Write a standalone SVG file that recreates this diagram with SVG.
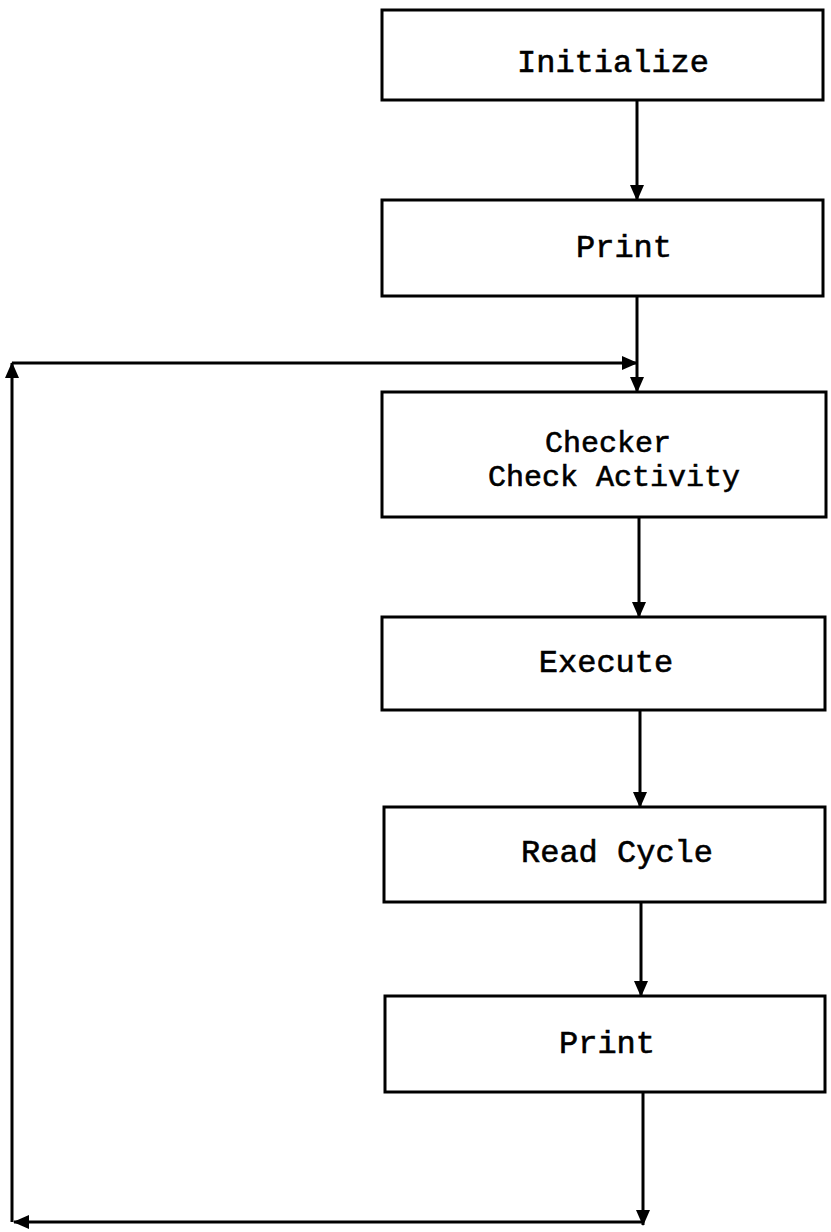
<svg xmlns="http://www.w3.org/2000/svg" width="831" height="1232" viewBox="0 0 831 1232">
<style>
.box{fill:#fff;stroke:#000;stroke-width:3}
.lbl{font-family:"Liberation Mono","Courier New",monospace;font-size:32px;fill:#000;text-anchor:middle;stroke:#000;stroke-width:0.6}
.sm{font-size:30px}
.ln{fill:none;stroke:#000;stroke-width:3}
</style>
<defs>
<marker id="ah" markerWidth="16" markerHeight="16" refX="15" refY="8" orient="auto" markerUnits="userSpaceOnUse">
<path d="M0,1 L16,8 L0,15 Z" fill="#000"/>
</marker>
</defs>
<rect width="831" height="1232" fill="#fff"/>
<g id="connectors">
<line class="ln" x1="637" y1="100" x2="637" y2="200" marker-end="url(#ah)"/>
<line class="ln" x1="637" y1="296" x2="637" y2="392" marker-end="url(#ah)"/>
<line class="ln" x1="12" y1="363" x2="637" y2="363" marker-end="url(#ah)"/>
<line class="ln" x1="639" y1="517" x2="639" y2="617" marker-end="url(#ah)"/>
<line class="ln" x1="640" y1="710" x2="640" y2="807" marker-end="url(#ah)"/>
<line class="ln" x1="641" y1="902" x2="641" y2="996" marker-end="url(#ah)"/>
<line class="ln" x1="643" y1="1092" x2="643" y2="1225" marker-end="url(#ah)"/>
<line class="ln" x1="643" y1="1222" x2="14" y2="1222" marker-end="url(#ah)"/>
<line class="ln" x1="12" y1="1222" x2="12" y2="363" marker-end="url(#ah)"/>
</g>
<g id="initialize">
<rect class="box" x="382" y="10" width="441" height="90"/>
<text class="lbl" x="613" y="72">Initialize</text>
</g>
<g id="print1">
<rect class="box" x="382" y="200" width="441" height="96"/>
<text class="lbl" x="624" y="257">Print</text>
</g>
<g id="checker">
<rect class="box" x="382" y="392" width="444" height="125"/>
<text class="lbl sm" x="608" y="452">Checker</text>
<text class="lbl sm" x="614" y="486">Check Activity</text>
</g>
<g id="execute">
<rect class="box" x="382" y="617" width="443" height="93"/>
<text class="lbl" x="606" y="672">Execute</text>
</g>
<g id="readcycle">
<rect class="box" x="384" y="807" width="441" height="95"/>
<text class="lbl" x="617" y="862">Read Cycle</text>
</g>
<g id="print2">
<rect class="box" x="385" y="996" width="440" height="96"/>
<text class="lbl" x="607" y="1053">Print</text>
</g>
</svg>
